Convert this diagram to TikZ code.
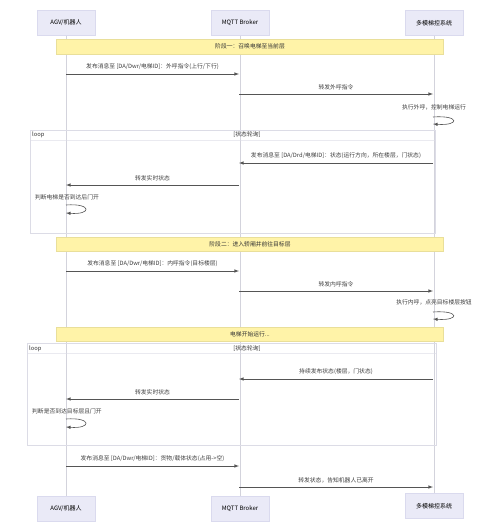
\documentclass[tikz,border=0pt]{standalone}
\usepackage{fontspec}
\setmainfont{Noto Sans CJK SC}
\usetikzlibrary{arrows,shapes,positioning}

\definecolor{actorfill}{HTML}{EAEAF7}
\definecolor{actorline}{HTML}{DADAEE}
\definecolor{notefill}{HTML}{FFF3A8}
\definecolor{noteline}{HTML}{E9DF9A}
\definecolor{lifeline}{HTML}{D3D3DC}
\definecolor{msgline}{HTML}{555555}
\definecolor{loopline}{HTML}{DCDCE6}

\tikzset{
  actor/.style={draw=actorline, fill=actorfill, minimum width=58pt, minimum height=25pt, inner sep=0pt, font=\fontsize{6}{7}\selectfont},
  life/.style={draw=lifeline, line width=0.6pt},
  msg/.style={draw=msgline, line width=0.6pt, -latex},
  msglabel/.style={font=\fontsize{5.8}{7}\selectfont, text=black!75, inner sep=1pt},
  notebox/.style={draw=noteline, fill=notefill},
  loopbox/.style={draw=loopline, line width=0.6pt},
  looplabel/.style={font=\fontsize{5.8}{7}\selectfont, text=black!80, inner sep=1pt}
}

\begin{document}
\begin{tikzpicture}[x=1pt,y=-1pt]
\useasboundingbox (0,0) rectangle (500,531);
\fill[white] (0,0) rectangle (500,531);

%%%%%
%% actors
%%%%%
\node[actor] (agv) at (66,23) {AGV/机器人};
\node[actor] (mqtt) at (240,23) {MQTT Broker};
\node[actor] (ctrl) at (434,23) {多模梯控系统};

\node[actor] (agvb) at (66,509) {AGV/机器人};
\node[actor] (mqttb) at (240,509) {MQTT Broker};
\node[actor] (ctrlb) at (434,506) {多模梯控系统};

\draw[life] (agv) -- (agvb);
\draw[life] (mqtt) -- (mqttb);
\draw[life] (ctrl) -- (ctrlb);

%%%%%
%% 阶段一
%%%%%
\draw[notebox] (56,39) rectangle (443,54);
\node[looplabel] (note1) at (250,46.5) {阶段一：召唤电梯至当前层};

\coordinate (a1) at (66,74);
\coordinate (b1) at (239,74);
\draw[msg] (a1) -- (b1) node[midway,above=3pt,msglabel] {发布消息至 [DA/Dwr/电梯ID]：外呼指令(上行/下行)};

\coordinate (b2) at (239,94);
\coordinate (c2) at (433,94);
\draw[msg] (b2) -- (c2) node[midway,above=3pt,msglabel] {转发外呼指令};

\coordinate (c3) at (433,117);
\coordinate (c3e) at (433,124);
\node[msglabel] (self1) at (434,107) {执行外呼，控制电梯运行};
\draw[msg] (c3) .. controls (460,115) and (460,126) .. (c3e);

%% loop 1
\draw[loopbox] (30,130) rectangle (435,233);
\draw[loopbox, draw opacity=0.6] (30,140) -- (435,140);
\node[looplabel, anchor=west] (loop1) at (31,134.5) {loop};
\node[looplabel] (cond1) at (247,134.5) {[状态轮询]};

\coordinate (c4) at (433,163);
\coordinate (b4) at (239,163);
\draw[msg] (c4) -- (b4) node[midway,above=3pt,msglabel] {发布消息至 [DA/Drd/电梯ID]：状态(运行方向，所在楼层，门状态)};

\coordinate (b5) at (239,185);
\coordinate (a5) at (66,185);
\draw[msg] (b5) -- (a5) node[midway,above=3pt,msglabel] {转发实时状态};

\coordinate (a6) at (66,205);
\coordinate (a6e) at (66,213);
\node[msglabel] (self2) at (67,197) {判断电梯是否到达后门开};
\draw[msg] (a6) .. controls (92,203) and (92,215) .. (a6e);

%%%%%
%% 阶段二
%%%%%
\draw[notebox] (56,237) rectangle (443,251);
\node[looplabel] (note2) at (250,244) {阶段二：进入轿厢并前往目标层};

\coordinate (a7) at (66,271);
\coordinate (b7) at (239,271);
\draw[msg] (a7) -- (b7) node[midway,above=3pt,msglabel] {发布消息至 [DA/Dwr/电梯ID]：内呼指令(目标楼层)};

\coordinate (b8) at (239,291);
\coordinate (c8) at (433,291);
\draw[msg] (b8) -- (c8) node[midway,above=3pt,msglabel] {转发内呼指令};

\coordinate (c9) at (433,312);
\coordinate (c9e) at (433,319);
\node[msglabel] (self3) at (434,302) {执行内呼，点亮目标楼层按钮};
\draw[msg] (c9) .. controls (460,310) and (460,321) .. (c9e);

%%%%%
%% 电梯运行
%%%%%
\draw[notebox] (56,327) rectangle (443,341);
\node[looplabel] (note3) at (250,334) {电梯开始运行...};

%% loop 2
\draw[loopbox] (27,343) rectangle (436,445);
\draw[loopbox, draw opacity=0.6] (27,353) -- (436,353);
\node[looplabel, anchor=west] (loop2) at (28,348.5) {loop};
\node[looplabel] (cond2) at (247,348.5) {[状态轮询]};

\coordinate (c10) at (433,379);
\coordinate (b10) at (239,379);
\draw[msg] (c10) -- (b10) node[midway,above=3pt,msglabel] {持续发布状态(楼层，门状态)};

\coordinate (b11) at (239,399);
\coordinate (a11) at (66,399);
\draw[msg] (b11) -- (a11) node[midway,above=3pt,msglabel] {转发实时状态};

\coordinate (a12) at (66,419);
\coordinate (a12e) at (66,427);
\node[msglabel] (self4) at (67,411) {判断是否到达目标层且门开};
\draw[msg] (a12) .. controls (92,417) and (92,429) .. (a12e);

%%%%%
%% 离开
%%%%%
\coordinate (a13) at (66,466);
\coordinate (b13) at (239,466);
\draw[msg] (a13) -- (b13) node[midway,above=3pt,msglabel] {发布消息至 [DA/Dwr/电梯ID]：货物/载体状态(占用->空)};

\coordinate (b14) at (239,487);
\coordinate (c14) at (433,487);
\draw[msg] (b14) -- (c14) node[midway,above=3pt,msglabel] {转发状态，告知机器人已离开};

\end{tikzpicture}
\end{document}
